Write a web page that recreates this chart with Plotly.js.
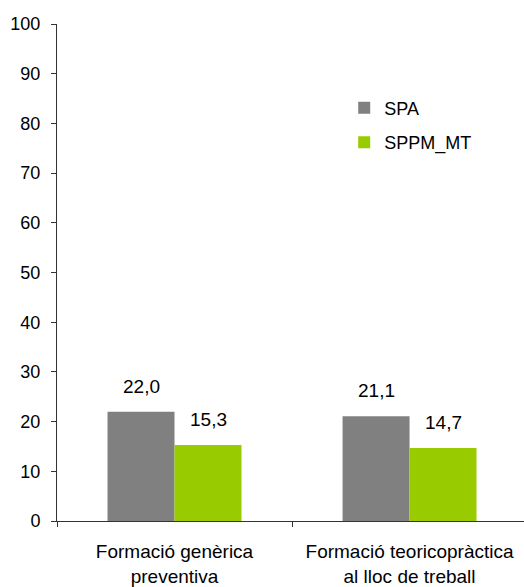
<!DOCTYPE html>
<html>
<head>
<meta charset="utf-8">
<script src="https://cdn.plot.ly/plotly-3.0.1.min.js"></script>
<style>html,body{margin:0;padding:0;background:#fff;}#chart{width:524px;height:587px;}</style>
</head>
<body>
<div id="chart"></div>
<script>
const categories = ["Formació genèrica<br>preventiva", "Formació teoricopràctica<br>al lloc de treball"];
const seriesNames = ["SPA", "SPPM_MT"];
const spaValues = [22.0, 21.1];
const sppmValues = [15.3, 14.7];
const yTicks = [0, 10, 20, 30, 40, 50, 60, 70, 80, 90, 100];

const fmt = v => v.toFixed(1).replace('.', ',');
const colors = ["#808080", "#99CC00"];
const FONT = "Liberation Sans, Arial, sans-serif";

const traces = [
  {type: 'bar', name: seriesNames[0], x: categories, y: spaValues, marker: {color: colors[0]}, legendgroup: 'a', hoverinfo: 'none'},
  {type: 'bar', name: seriesNames[1], x: categories, y: sppmValues, marker: {color: colors[1]}, legendgroup: 'b', hoverinfo: 'none'}
];

const annotations = [];
[spaValues, sppmValues].forEach((vals, si) => {
  vals.forEach((v, ci) => {
    annotations.push({
      x: categories[ci], y: v, xref: 'x', yref: 'y',
      text: fmt(v), showarrow: false, yanchor: 'bottom',
      xshift: si === 0 ? -33.5 : 33.5, yshift: 13,
      font: {family: FONT, size: 19, color: '#000'}
    });
  });
});

const layout = {
  width: 524, height: 587,
  margin: {l: 57, r: 0, t: 24, b: 65.5},
  paper_bgcolor: '#fff', plot_bgcolor: '#fff',
  barmode: 'group', bargap: 0.43, bargroupgap: 0,
  font: {family: FONT, size: 18, color: '#000'},
  xaxis: {
    type: 'category', range: [-0.5, 1.487], showgrid: false, zeroline: false,
    showline: true, linecolor: '#333', linewidth: 1,
    ticks: 'outside', tickson: 'boundaries', ticklen: 5, tickcolor: '#333',
    ticklabelstandoff: 13,
    tickfont: {family: FONT, size: 19, color: '#000'}, fixedrange: true
  },
  yaxis: {
    range: [0, 100], tickvals: yTicks, ticktext: yTicks.map(String),
    showgrid: false, zeroline: false, showline: true, linecolor: '#333', linewidth: 1,
    ticks: 'outside', ticklen: 5, tickcolor: '#333', ticklabelstandoff: 7,
    tickfont: {family: FONT, size: 18, color: '#000'}, fixedrange: true
  },
  showlegend: true,
  legend: {
    x: 0.615, y: 0.868, xanchor: 'left', yanchor: 'top',
    traceorder: 'grouped', tracegroupgap: 8, itemwidth: 30,
    font: {family: FONT, size: 18, color: '#000'},
    bgcolor: 'rgba(0,0,0,0)', borderwidth: 0
  },
  annotations: annotations
};

Plotly.newPlot('chart', traces, layout, {displayModeBar: false, staticPlot: true});
</script>
</body>
</html>
